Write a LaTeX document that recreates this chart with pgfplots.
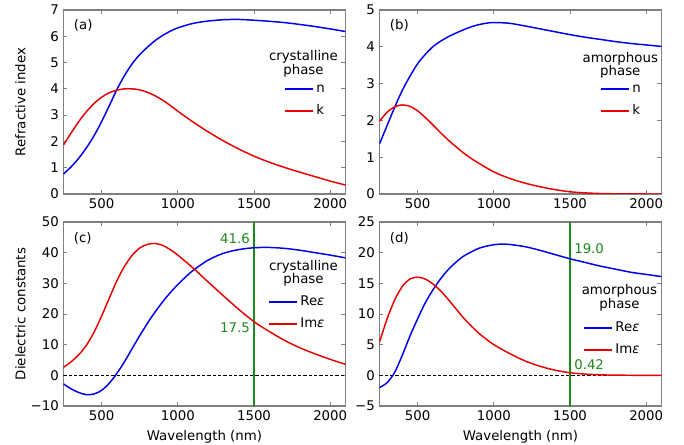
\documentclass[border=0pt]{standalone}
\usepackage{fontspec}
\setmainfont{DejaVu Sans}
\usepackage{pgfplots}
\pgfplotsset{compat=1.18}

\definecolor{nblue}{RGB}{0,0,235}
\definecolor{kred}{RGB}{230,0,0}
\definecolor{mgreen}{RGB}{30,135,30}

\pgfplotsset{
  panel/.style={
    scale only axis, width=211.5pt, height=138pt,
    xmin=250, xmax=2100, xtick={500,1000,1500,2000},
    tick align=inside, major tick length=3pt,
    axis line style={gray, line width=0.8pt},
    tick style={gray, line width=0.6pt},
    /pgf/number format/assume math mode=true,
    /pgf/number format/1000 sep={},
    tick label style={font=\fontsize{10}{12}\selectfont},
    label style={font=\fontsize{10}{12}\selectfont},
    ylabel style={at={(rel axis cs:-0.153,0.5)}, anchor=center},
    legend style={draw=none, fill=none, inner sep=0pt, row sep=3pt,
      font=\fontsize{10}{12}\selectfont, anchor=west,
      nodes={inner sep=2pt, text height=7.5pt, text depth=2pt}},
    legend image code/.code={\draw[#1] (0pt,0pt) -- (21pt,0pt);},
    legend cell align=left,
  },
  curve/.style={line width=1.1pt, smooth, no markers},
}

\begin{document}
\begin{tikzpicture}
\path[use as bounding box] (0,0) rectangle (513pt,333.75pt);

% (a) crystalline n, k
\begin{axis}[panel, at={(47.6pt,326.25pt)}, anchor=north west,
    ymin=0, ymax=7, ytick={0,1,...,7},
    ylabel={Refractive index},
    legend style={at={(0.782,0.511)}}]
\addplot[curve, nblue] coordinates {
 (250,0.76) (300,1.03) (350,1.36) (400,1.75) (450,2.21) (500,2.75) (550,3.35)
 (600,3.97) (650,4.50) (700,4.95) (750,5.30) (800,5.58) (850,5.83) (900,6.03)
 (950,6.19) (1000,6.32) (1100,6.49) (1200,6.58) (1300,6.63) (1400,6.64)
 (1500,6.61) (1600,6.57) (1700,6.52) (1800,6.45) (1900,6.37) (2000,6.28) (2100,6.18)};
\addlegendentry{n}
\addplot[curve, kred] coordinates {
 (250,1.86) (300,2.32) (350,2.75) (400,3.13) (450,3.44) (500,3.68) (550,3.85)
 (600,3.95) (650,4.00) (700,4.00) (750,3.96) (800,3.87) (850,3.74) (900,3.57)
 (950,3.37) (1000,3.15) (1100,2.74) (1200,2.36) (1300,2.02) (1400,1.71)
 (1500,1.44) (1600,1.21) (1700,1.01) (1800,0.83) (1900,0.66) (2000,0.49) (2100,0.34)};
\addlegendentry{k}
\node[anchor=north west, inner sep=0pt] at (rel axis cs:0.036,0.948) {(a)};
\node[align=center, font=\fontsize{10}{10}\selectfont] at (rel axis cs:0.851,0.707) {crystalline\\phase};
\end{axis}

% (b) amorphous n, k
\begin{axis}[panel, at={(284.6pt,326.25pt)}, anchor=north west,
    ymin=0, ymax=5, ytick={0,1,...,5},
    legend style={at={(0.782,0.511)}}]
\addplot[curve, nblue] coordinates {
 (250,1.36) (300,1.86) (350,2.36) (400,2.82) (450,3.20) (500,3.54) (550,3.79)
 (600,4.00) (650,4.15) (700,4.27) (750,4.37) (800,4.46) (850,4.54) (900,4.60)
 (950,4.64) (1000,4.66) (1100,4.64) (1200,4.57) (1300,4.49) (1400,4.41)
 (1500,4.33) (1600,4.26) (1700,4.20) (1800,4.14) (1900,4.09) (2000,4.05) (2100,4.01)};
\addlegendentry{n}
\addplot[curve, kred] coordinates {
 (250,1.98) (300,2.22) (350,2.37) (400,2.42) (450,2.38) (500,2.26) (550,2.08)
 (600,1.88) (650,1.67) (700,1.47) (750,1.29) (800,1.12) (850,0.97) (900,0.84)
 (1000,0.60) (1100,0.43) (1200,0.30) (1300,0.20) (1400,0.12) (1500,0.06)
 (1600,0.03) (1700,0.012) (1800,0.005) (1900,0.002) (2000,0) (2100,0)};
\addlegendentry{k}
\node[anchor=north west, inner sep=0pt] at (rel axis cs:0.036,0.948) {(b)};
\node[align=center, font=\fontsize{10}{10}\selectfont] at (rel axis cs:0.854,0.70) {amorphous\\phase};
\end{axis}

% (c) crystalline epsilon
\begin{axis}[panel, at={(47.6pt,167.25pt)}, anchor=north west,
    ymin=-10, ymax=50, ytick={-10,0,...,50},
    yticklabels={−10,0,10,20,30,40,50},
    ylabel={Dielectric constants}, xlabel={Wavelength (nm)},
    legend style={at={(0.725,0.505)}}]
\addplot[black, line width=0.5pt, dash pattern=on 2.5pt off 1.5pt, forget plot] coordinates {(250,0) (2100,0)};
\addplot[mgreen, line width=0.8pt, forget plot] coordinates {(1500,-10) (1500,50)};
\addplot[curve, nblue] coordinates {
 (250,-2.8) (300,-4.4) (350,-5.6) (400,-6.3) (450,-6.1) (500,-4.9) (550,-2.6)
 (600,0.6) (650,4.4) (700,8.7) (750,12.9) (800,16.9) (850,20.6) (900,23.9)
 (950,26.9) (1000,29.6) (1050,32.0) (1100,34.2) (1200,37.6) (1300,39.8)
 (1400,41.0) (1500,41.6) (1600,41.7) (1700,41.4) (1800,40.8) (1900,40.0)
 (2000,39.2) (2100,38.3)};
\addlegendentry{Re\textit{ε}}
\addplot[curve, kred] coordinates {
 (250,2.6) (300,4.4) (350,6.7) (400,9.8) (450,14.0) (500,19.3) (550,25.1)
 (600,30.8) (650,35.5) (700,39.1) (750,41.5) (800,42.7) (850,43.0) (900,42.4)
 (950,41.0) (1000,39.2) (1100,35.0) (1200,30.4) (1300,25.9) (1400,21.5)
 (1500,17.5) (1600,14.3) (1700,11.4) (1800,9.0) (1900,7.0) (2000,5.2) (2100,3.6)};
\addlegendentry{Im\textit{ε}}
\node[anchor=north west, inner sep=0pt] at (rel axis cs:0.036,0.945) {(c)};
\node[align=center, font=\fontsize{10}{10}\selectfont] at (rel axis cs:0.851,0.72) {crystalline\\phase};
\node[anchor=east, text=mgreen, inner sep=3pt] at (axis cs:1500,44.5) {41.6};
\node[anchor=east, text=mgreen, inner sep=3pt] at (axis cs:1500,15.5) {17.5};
\end{axis}

% (d) amorphous epsilon
\begin{axis}[panel, at={(284.6pt,167.25pt)}, anchor=north west,
    ymin=-5, ymax=25, ytick={-5,0,...,25},
    yticklabels={−5,0,5,10,15,20,25},
    xlabel={Wavelength (nm)},
    legend style={at={(0.722,0.365)}}]
\addplot[black, line width=0.5pt, dash pattern=on 2.5pt off 1.5pt, forget plot] coordinates {(250,0) (2100,0)};
\addplot[mgreen, line width=0.8pt, forget plot] coordinates {(1500,-5) (1500,25)};
\addplot[curve, nblue] coordinates {
 (250,-2.0) (300,-1.2) (350,0.5) (400,3.3) (450,6.4) (500,9.2) (550,11.8)
 (600,13.9) (650,15.7) (700,17.2) (750,18.4) (800,19.4) (850,20.1) (900,20.7)
 (950,21.05) (1000,21.3) (1050,21.4) (1100,21.35) (1200,21.0) (1300,20.4)
 (1400,19.7) (1500,19.0) (1600,18.4) (1700,17.8) (1800,17.3) (1900,16.8)
 (2000,16.45) (2100,16.1)};
\addlegendentry{Re\textit{ε}}
\addplot[curve, kred] coordinates {
 (250,5.4) (300,9.2) (350,12.3) (400,14.5) (450,15.7) (500,16.0) (550,15.7)
 (600,14.9) (650,13.8) (700,12.4) (750,10.9) (800,9.4) (850,8.1) (900,6.9)
 (950,5.9) (1000,5.0) (1100,3.6) (1200,2.4) (1300,1.5) (1400,0.85) (1500,0.42)
 (1600,0.2) (1700,0.08) (1800,0.03) (1900,0.01) (2000,0) (2100,0)};
\addlegendentry{Im\textit{ε}}
\node[anchor=north west, inner sep=0pt] at (rel axis cs:0.036,0.945) {(d)};
\node[align=center, font=\fontsize{10}{10}\selectfont] at (rel axis cs:0.851,0.587) {amorphous\\phase};
\node[anchor=west, text=mgreen, inner sep=3pt] at (axis cs:1500,20.6) {19.0};
\node[anchor=west, text=mgreen, inner sep=3pt] at (axis cs:1500,1.7) {0.42};
\end{axis}
\end{tikzpicture}
\end{document}
